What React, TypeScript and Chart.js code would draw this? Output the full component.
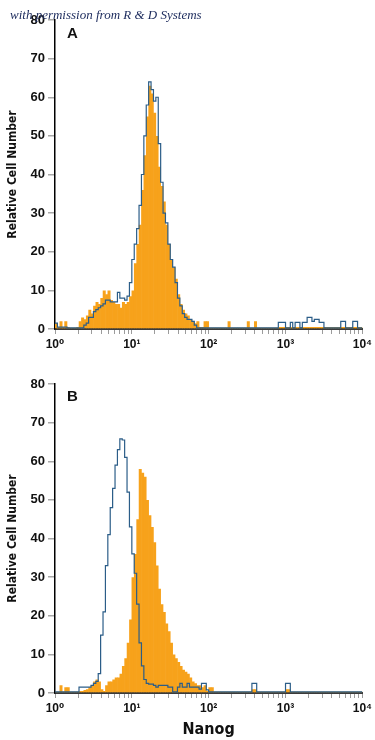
import React, { useEffect, useRef } from 'react';
import { Chart, registerables } from 'chart.js';

Chart.register(...registerables);

// ---------- data ----------
const BINS_PER_DECADE = 32; // histogram channels per decade (log scale 10^0 .. 10^4)
const X_DECADE_LABELS = ['10⁰', '10¹', '10²', '10³', '10⁴'];
const MINOR_MULTIPLES = [2, 3, 4, 5, 6, 7, 8, 9];
const Y_MIN = 0;
const Y_MAX = 80;
const Y_STEP = 10;
const Y_TITLE = 'Relative Cell Number';
const X_TITLE = 'Nanog';
const PANEL_LABELS = ['A', 'B'];

// Panel A – isotype control (blue outline)
const A_CONTROL = [
  1.5, 0.5, 0.5, 0.5, 0.5, 0.3, 0.3, 0.3, 0.3, 0.3, 0.3, 0.3, 1, 1.5, 3, 3,
  4.5, 5, 5.5, 6, 6.5, 7.5, 7.5, 7, 7, 7, 9.5, 8, 8, 7.5, 8.5, 12,
  18, 22, 26, 32, 40, 50, 58, 64, 62, 59, 60, 48, 38, 30, 27.5, 22,
  18, 16, 12, 8, 6, 4, 3, 2.5, 2.5, 2, 1, 0.3, 0.3, 0.3, 0.3, 0.3,
  0.3, 0.3, 0.3, 0.3, 0.3, 0.3, 0.3, 0.3, 0.3, 0.3, 0.3, 0.3, 0.3, 0.3, 0.3, 0.3,
  0.3, 0.3, 0.3, 0.3, 0.3, 0.3, 0.3, 0.3, 0.3, 0.3, 0.3, 0.3, 0.3, 1.7, 1.7, 1.7,
  0.3, 0.3, 1.7, 0.3, 1.7, 1.7, 0.3, 1.7, 1.7, 3, 3, 2, 2.5, 2.5, 1.7, 1.7,
  0.3, 0.3, 0.3, 0.3, 0.3, 0.3, 0.3, 2, 2, 0.3, 0.3, 0.3, 2, 2, 0.3, 0.3,
];
// Panel A – Nanog stained (orange fill)
const A_NANOG = [
  1.5, 0.5, 2, 0.5, 2, 0.5, 0.3, 0.3, 0.3, 0.5, 2, 3, 2.5, 3.5, 5, 4,
  6, 7, 6.5, 8, 10, 9, 10, 7.5, 7, 6.5, 6.5, 5.5, 7, 6.5, 7, 8.5,
  10, 17, 22, 27, 36, 45, 55, 63, 61, 56, 50, 42, 37, 33, 27, 22,
  18, 16, 13, 9, 6.5, 5, 4, 3.5, 2.5, 2, 1.5, 2, 0.5, 0.5, 2, 2,
  0.3, 0.3, 0.3, 0.3, 0.3, 0.3, 0.3, 0.3, 2, 0.3, 0.3, 0.3, 0.3, 0.3, 0.3, 0.3,
  2, 0.3, 0.3, 2, 0.3, 0.3, 0.3, 0.3, 0.3, 0.3, 0.3, 0.3, 0.3, 0.5, 0.5, 0.5,
  0.5, 0.5, 0.5, 0.5, 0.5, 0.5, 0.5, 0.5, 0.5, 0.5, 0.5, 0.5, 0.5, 0.5, 0.5, 0.5,
  0.5, 0.5, 0.5, 0.5, 0.5, 0.5, 0.5, 0.5, 0.5, 0.5, 0.5, 0.5, 0.5, 0.5, 0.5, 0.5,
];
// Panel B – isotype control (blue outline)
const B_CONTROL = [
  0.3, 0.3, 0.3, 0.3, 0.3, 0.3, 0.3, 0.3, 0.3, 0.3, 1.5, 1.5, 1.5, 1.5, 1.5, 2,
  2.5, 3, 5, 15, 21, 33, 41, 48, 53, 59, 63, 65.8, 65.5, 61, 52, 43,
  36, 31, 23, 13, 7, 3.5, 2.5, 2.3, 2.3, 2, 1.5, 2, 2, 2, 2, 1.5,
  1.5, 0.3, 0.3, 1.5, 2.5, 1.5, 1.5, 2.5, 1.5, 1.5, 1.5, 1.5, 1, 2.5, 2.5, 0.8,
  0.3, 0.3, 0.3, 0.3, 0.3, 0.3, 0.3, 0.3, 0.3, 0.3, 0.3, 0.3, 0.3, 0.3, 0.3, 0.3,
  0.3, 0.3, 2.5, 2.5, 0.3, 0.3, 0.3, 0.3, 0.3, 0.3, 0.3, 0.3, 0.3, 0.3, 0.3, 0.3,
  2.5, 2.5, 0.3, 0.3, 0.3, 0.3, 0.3, 0.3, 0.3, 0.3, 0.3, 0.3, 0.3, 0.3, 0.3, 0.3,
  0.3, 0.3, 0.3, 0.3, 0.3, 0.3, 0.3, 0.3, 0.3, 0.3, 0.3, 0.3, 0.3, 0.3, 0.3, 0.3,
];
// Panel B – Nanog stained (orange fill)
const B_NANOG = [
  0.3, 0.3, 2, 0.3, 1.5, 1.5, 0.3, 0.3, 0.3, 0.3, 0.5, 0.5, 0.8, 1, 1.5, 2,
  3, 3.5, 3, 1, 0.5, 2, 3, 3, 3.5, 4, 4, 5, 7, 9, 13, 19,
  30, 36, 45, 58, 57, 56, 50, 46, 43, 39, 33, 27, 23, 21, 18, 16,
  13, 10, 9, 8, 7, 6, 5.5, 5, 4, 3, 2.5, 2, 2, 1.5, 2, 0.5,
  1.5, 1.5, 0.3, 0.3, 0.3, 0.3, 0.3, 0.3, 0.3, 0.3, 0.3, 0.3, 0.3, 0.3, 0.3, 0.3,
  0.3, 0.3, 1, 1, 0.3, 0.3, 0.3, 0.3, 0.3, 0.3, 0.3, 0.3, 0.3, 0.3, 0.3, 0.3,
  1, 1, 0.3, 0.3, 0.3, 0.3, 0.3, 0.3, 0.3, 0.3, 0.3, 0.3, 0.3, 0.3, 0.3, 0.3,
  0.3, 0.3, 0.3, 0.3, 0.3, 0.3, 0.3, 0.3, 0.3, 0.3, 0.3, 0.3, 0.3, 0.3, 0.3, 0.3,
];

// ---------- styles ----------
const ORANGE = '#F7A21B';
const BLUE = '#2B5D88';
const SANS = "'Liberation Sans', 'DejaVu Sans', Arial, sans-serif";
const NARROW = "'Liberation Sans Narrow', 'DejaVu Sans Condensed', 'Liberation Sans', sans-serif";

const DECADES = X_DECADE_LABELS.length - 1;
const X_TICKS: number[] = [];
for (let d = 0; d <= DECADES; d++) {
  X_TICKS.push(d);
  if (d < DECADES) MINOR_MULTIPLES.forEach((m) => X_TICKS.push(d + Math.log10(m)));
}

// Histogram outline: each channel becomes a flat top from its lower to its upper edge.
function toSteps(values: number[]) {
  const pts: { x: number; y: number }[] = [];
  values.forEach((v, i) => {
    pts.push({ x: i / BINS_PER_DECADE, y: v });
    pts.push({ x: (i + 1) / BINS_PER_DECADE, y: v });
  });
  return pts;
}
// Filled histogram: one bar per channel, centred in its channel.
function toBars(values: number[]) {
  return values.map((v, i) => ({ x: (i + 0.5) / BINS_PER_DECADE, y: v }));
}

type PanelProps = {
  control: number[];
  stained: number[];
  height: number;
  padTop: number;
  xHeight: number;
  showXTitle: boolean;
};

function Panel({ control, stained, height, padTop, xHeight, showXTitle }: PanelProps) {
  const ref = useRef<HTMLCanvasElement | null>(null);
  useEffect(() => {
    if (!ref.current) return;
    const chart = new Chart(ref.current, {
      type: 'line',
      data: {
        datasets: [
          {
            type: 'line',
            data: toSteps(control),
            borderColor: BLUE,
            borderWidth: 1.2,
            pointRadius: 0,
            tension: 0,
            fill: false,
            order: 0,
          },
          {
            type: 'bar',
            data: toBars(stained),
            backgroundColor: ORANGE,
            borderWidth: 0,
            barPercentage: 1.25,
            categoryPercentage: 1,
            grouped: false,
            order: 1,
          },
        ],
      },
      options: {
        responsive: false,
        animation: false,
        devicePixelRatio: 1,
        layout: { padding: { top: padTop, right: 8, bottom: 0, left: 0 } },
        plugins: { legend: { display: false }, tooltip: { enabled: false } },
        scales: {
          x: {
            type: 'linear',
            min: 0,
            max: DECADES,
            offset: false,
            afterBuildTicks: (s: any) => {
              s.ticks = X_TICKS.map((v) => ({ value: v }));
            },
            afterFit: (s: any) => {
              s.height = xHeight;
            },
            grid: { drawOnChartArea: false, drawTicks: true, tickLength: 5, color: '#9c9c9c', lineWidth: 1, offset: false },
            border: { display: true, color: '#3a3a3a', width: 2 },
            ticks: {
              autoSkip: false,
              maxRotation: 0,
              minRotation: 0,
              padding: 3,
              color: '#111',
              font: { family: SANS, size: 12, weight: 'bold' },
              callback: (v: any) => {
                const n = Number(v);
                const r = Math.round(n);
                return Math.abs(n - r) < 1e-9 ? X_DECADE_LABELS[r] : '';
              },
            },
            title: {
              display: showXTitle,
              text: X_TITLE,
              color: '#111',
              font: { family: NARROW, size: 16, weight: 'bold' },
              padding: { top: 2, bottom: 1 },
            },
          },
          y: {
            min: Y_MIN,
            max: Y_MAX,
            afterFit: (s: any) => {
              s.width = 55;
            },
            grid: { drawOnChartArea: false, drawTicks: true, tickLength: 7, color: '#a8a8a8', lineWidth: 1.5 },
            border: { display: true, color: '#000', width: 1.5 },
            ticks: {
              stepSize: Y_STEP,
              padding: 3,
              color: '#111',
              font: { family: SANS, size: 13, weight: 'bold' },
            },
            title: {
              display: true,
              text: Y_TITLE,
              color: '#111',
              font: { family: NARROW, size: 12, weight: 'bold' },
              padding: { top: 6, bottom: 0 },
            },
          },
        },
      } as any,
    });
    return () => chart.destroy();
  }, [control, stained, height, padTop, xHeight, showXTitle]);
  return <canvas ref={ref} width={375} height={height} style={{ display: 'block', width: 375, height }} />;
}

export default function App() {
  return (
    <div
      style={{
        position: 'absolute',
        left: 0,
        top: 0,
        width: 375,
        height: 740,
        background: '#fff',
        overflow: 'hidden',
      }}
    >
      <Panel control={A_CONTROL} stained={A_NANOG} height={365} padTop={20} xHeight={36} showXTitle={false} />
      <Panel control={B_CONTROL} stained={B_NANOG} height={375} padTop={19} xHeight={47} showXTitle={true} />
      <div
        style={{
          position: 'absolute',
          left: 67,
          top: 25,
          font: `bold 15px ${SANS}`,
          lineHeight: '15px',
          color: '#111',
        }}
      >
        {PANEL_LABELS[0]}
      </div>
      <div
        style={{
          position: 'absolute',
          left: 67,
          top: 388,
          font: `bold 15px ${SANS}`,
          lineHeight: '15px',
          color: '#111',
        }}
      >
        {PANEL_LABELS[1]}
      </div>
      <div
        style={{
          position: 'absolute',
          left: 10,
          top: 8,
          font: "italic 13px 'Liberation Serif', 'DejaVu Serif', serif",
          lineHeight: '13px',
          color: '#1b2a5c',
          whiteSpace: 'nowrap',
        }}
      >
        with permission from R &amp; D Systems
      </div>
    </div>
  );
}
